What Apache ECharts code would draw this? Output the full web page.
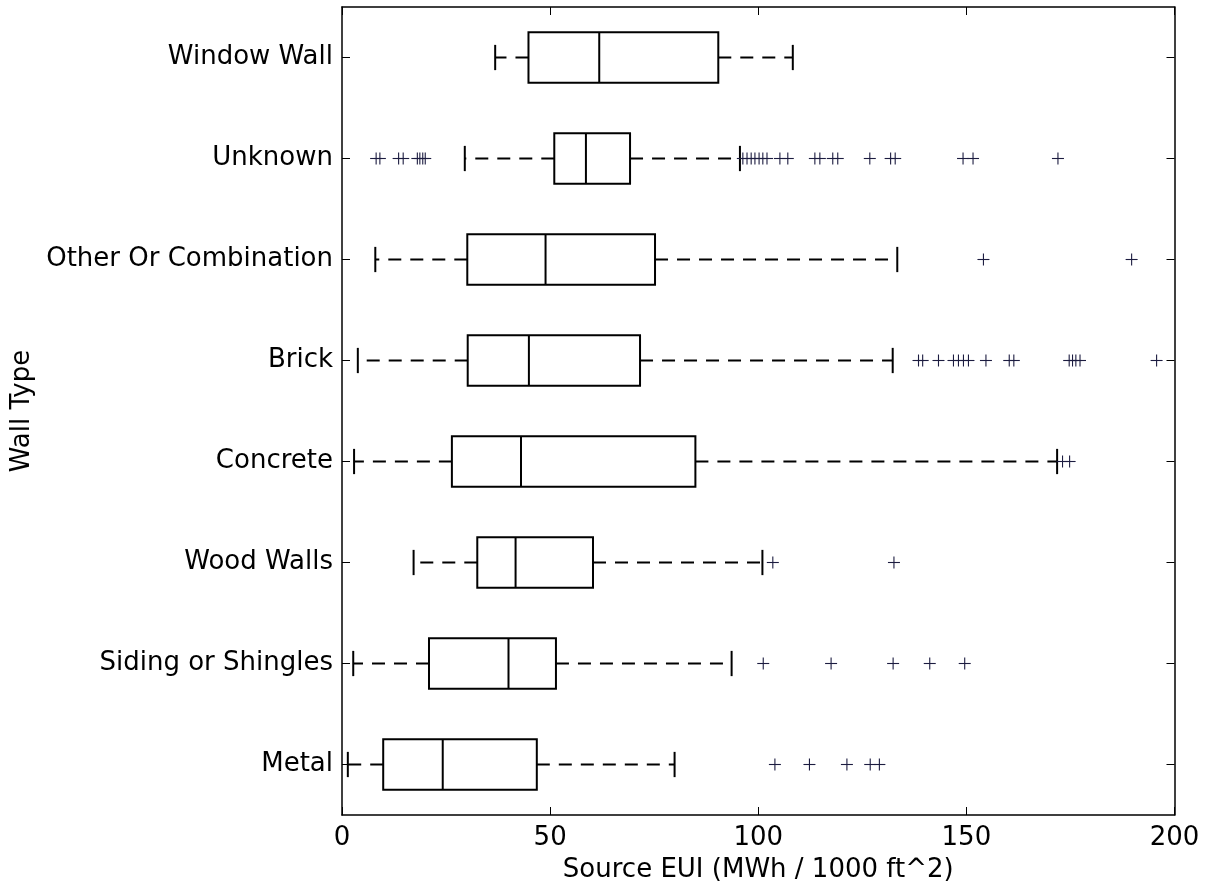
<!DOCTYPE html>
<html>
<head>
<meta charset="utf-8">
<title>Source EUI by Wall Type</title>
<script src="https://cdn.jsdelivr.net/npm/echarts@6/dist/echarts.min.js"></script>
<style>
  html, body { margin: 0; padding: 0; background: #ffffff; }
  #chart { width: 1206px; height: 888px; }
</style>
</head>
<body>
<div id="chart"></div>
<script>
// Wall types, listed bottom to top
const categories = ['Metal', 'Siding or Shingles', 'Wood Walls', 'Concrete', 'Brick',
                    'Other Or Combination', 'Unknown', 'Window Wall'];

// Box statistics per wall type (Source EUI, MWh / 1000 ft^2)
const lowerWhisker = [1.4, 2.7, 17.2, 2.9, 3.8, 8.0, 29.5, 36.8];
const quartile1    = [9.9, 20.9, 32.5, 26.4, 30.2, 30.1, 51.0, 44.8];
const medians      = [24.2, 40.0, 41.7, 43.0, 44.9, 48.9, 58.6, 61.8];
const quartile3    = [46.8, 51.4, 60.3, 84.9, 71.6, 75.2, 69.2, 90.4];
const upperWhisker = [79.9, 93.6, 101.0, 171.8, 132.3, 133.4, 95.6, 108.3];

// Points beyond the whiskers
const outliers = [
  [104.0, 112.3, 121.3, 126.9, 129.1],
  [101.2, 117.5, 132.4, 141.2, 149.6],
  [103.5, 132.6],
  [173.1, 174.8],
  [138.5, 139.5, 143.3, 146.9, 148.1, 149.3, 150.5, 154.7, 160.3, 161.4,
   174.7, 175.5, 176.3, 177.3, 195.7],
  [154.1, 189.7],
  [8.2, 9.1, 13.6, 14.7, 18.1, 18.7, 19.4, 20.0, 96.3, 97.3, 98.3, 99.2, 100.2,
   101.1, 102.1, 105.2, 107.1, 113.6, 114.8, 117.9, 119.1, 126.8, 131.8, 132.9,
   149.2, 151.6, 172.0],
  []
];

const xTicks = { min: 0, max: 200, interval: 50 };

const boxData = categories.map((c, i) =>
  [i, lowerWhisker[i], quartile1[i], medians[i], quartile3[i], upperWhisker[i]]);
const outlierData = [];
outliers.forEach((arr, i) => arr.forEach(v => outlierData.push([v, i])));

const FONT = 'DejaVu Sans';
const INK = '#000000';
const LW = 2;

function renderBox(params, api) {
  const idx = api.value(0);
  const band = api.size([0, 1])[1];
  const half = band * 0.25;      // box spans half the band
  const capHalf = band * 0.125;  // caps are half the box height
  const pLow = api.coord([api.value(1), idx]);
  const pQ1 = api.coord([api.value(2), idx]);
  const pMed = api.coord([api.value(3), idx]);
  const pQ3 = api.coord([api.value(4), idx]);
  const pHigh = api.coord([api.value(5), idx]);
  const y = pQ1[1];
  const solid = { stroke: INK, lineWidth: LW, fill: null };
  const dashed = { stroke: INK, lineWidth: LW, lineDash: [13, 9], fill: null };
  return {
    type: 'group',
    children: [
      { type: 'line', shape: { x1: pQ1[0], y1: y, x2: pLow[0], y2: y }, style: dashed },
      { type: 'line', shape: { x1: pQ3[0], y1: y, x2: pHigh[0], y2: y }, style: dashed },
      { type: 'line', shape: { x1: pLow[0], y1: y - capHalf, x2: pLow[0], y2: y + capHalf }, style: solid },
      { type: 'line', shape: { x1: pHigh[0], y1: y - capHalf, x2: pHigh[0], y2: y + capHalf }, style: solid },
      { type: 'rect', shape: { x: pQ1[0], y: y - half, width: pQ3[0] - pQ1[0], height: 2 * half },
        style: { stroke: INK, lineWidth: LW, fill: '#ffffff' } },
      { type: 'line', shape: { x1: pMed[0], y1: y - half, x2: pMed[0], y2: y + half }, style: solid }
    ]
  };
}

function renderPlus(params, api) {
  const p = api.coord([api.value(0), api.value(1)]);
  const s = 6;
  const st = { stroke: '#1c1c40', lineWidth: 1.1, fill: null };
  return {
    type: 'group',
    children: [
      { type: 'line', shape: { x1: p[0] - s, y1: p[1], x2: p[0] + s, y2: p[1] }, style: st },
      { type: 'line', shape: { x1: p[0], y1: p[1] - s, x2: p[0], y2: p[1] + s }, style: st }
    ]
  };
}

const axisLineStyle = { color: INK, width: 1.5 };
const tickStyle = { show: true, inside: true, length: 8, lineStyle: { color: INK, width: 1 } };
const labelStyle = { color: INK, fontFamily: FONT, fontSize: 26 };

const chart = echarts.init(document.getElementById('chart'), null, { renderer: 'canvas' });
chart.setOption({
  backgroundColor: '#ffffff',
  animation: false,
  grid: { left: 342, right: 31.5, top: 7, bottom: 71.5, containLabel: false },
  xAxis: [
    {
      type: 'value', position: 'bottom',
      min: xTicks.min, max: xTicks.max, interval: xTicks.interval,
      name: 'Source EUI (MWh / 1000 ft^2)', nameLocation: 'middle', nameGap: 42,
      nameTextStyle: labelStyle,
      axisLine: { show: true, onZero: false, lineStyle: axisLineStyle },
      axisTick: tickStyle,
      axisLabel: Object.assign({ margin: 10 }, labelStyle),
      splitLine: { show: false }
    },
    {
      type: 'value', position: 'top',
      min: xTicks.min, max: xTicks.max, interval: xTicks.interval,
      axisLine: { show: true, onZero: false, lineStyle: axisLineStyle },
      axisTick: tickStyle,
      axisLabel: { show: false },
      splitLine: { show: false }
    }
  ],
  yAxis: [
    {
      type: 'category', position: 'left', data: categories,
      name: 'Wall Type', nameLocation: 'middle', nameGap: 307, nameRotate: 90,
      nameTextStyle: labelStyle,
      axisLine: { show: true, onZero: false, lineStyle: axisLineStyle },
      axisTick: Object.assign({ alignWithLabel: true }, tickStyle),
      axisLabel: Object.assign({ margin: 9 }, labelStyle),
      splitLine: { show: false }
    },
    {
      type: 'category', position: 'right', data: categories,
      axisLine: { show: true, onZero: false, lineStyle: axisLineStyle },
      axisTick: Object.assign({ alignWithLabel: true }, tickStyle),
      axisLabel: { show: false },
      splitLine: { show: false }
    }
  ],
  series: [
    {
      type: 'custom', name: 'boxes', xAxisIndex: 0, yAxisIndex: 0,
      renderItem: renderBox, data: boxData, encode: { x: [1, 2, 3, 4, 5], y: 0 }, z: 2
    },
    {
      type: 'custom', name: 'outliers', xAxisIndex: 0, yAxisIndex: 0,
      renderItem: renderPlus, data: outlierData, encode: { x: 0, y: 1 }, z: 3
    }
  ]
});
</script>
</body>
</html>
